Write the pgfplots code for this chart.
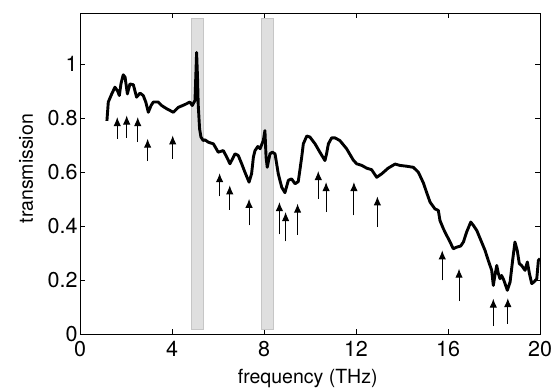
\documentclass[border=0pt]{standalone}
\usepackage{fontspec}
\setmainfont{TeX Gyre Heros}
\usepackage{pgfplots}
\pgfplotsset{compat=1.18}
\usetikzlibrary{arrows.meta}
\newcommand{\tickf}{\fontsize{21.5}{25}\selectfont}
\newcommand{\labf}{\fontsize{19.5}{23}\selectfont}
\begin{document}
\begin{tikzpicture}
\begin{axis}[
  scale only axis,
  width=460pt, height=321pt,
  xmin=0, xmax=20, ymin=0, ymax=1.19,
  xtick={0,4,8,12,16,20},
  ytick={0,0.2,0.4,0.6,0.8,1},
  tick align=inside,
  major tick length=5pt,
  tick style={black, line width=0.6pt},
  axis line style={black, line width=0.7pt},
  /pgf/number format/assume math mode=true,
  tick label style={font=\tickf},
  xticklabel style={anchor=base, yshift=-22.5pt},
  yticklabel style={anchor=east, xshift=1pt},
  label style={font=\labf},
  xlabel={frequency (THz)},
  ylabel={transmission},
  xlabel style={at={(axis description cs:0.495,0)}, anchor=base, yshift=-49pt},
  ylabel style={at={(axis description cs:0,0.515)}, anchor=base, yshift=47pt},
  clip=true,
]
% shaded bands
\addplot[fill=gray!25, draw=gray!45, line width=0.4pt] coordinates {(4.83,0.017) (5.35,0.017) (5.35,1.17) (4.83,1.17)} -- cycle;
\addplot[fill=gray!25, draw=gray!45, line width=0.4pt] coordinates {(7.87,0.017) (8.39,0.017) (8.39,1.17) (7.87,1.17)} -- cycle;
% transmission curve
\addplot[black, line width=2.9pt, line join=round] table {
x y
1.17 0.79
1.23 0.86
1.38 0.89
1.52 0.915
1.64 0.90
1.71 0.884
1.78 0.927
1.88 0.961
1.96 0.952
2.06 0.89
2.17 0.927
2.32 0.924
2.46 0.878
2.61 0.893
2.75 0.884
2.86 0.86
2.97 0.822
3.09 0.847
3.19 0.86
3.40 0.86
3.55 0.847
3.77 0.835
4.06 0.822
4.27 0.84
4.57 0.851
4.78 0.86
4.88 0.847
5.00 0.866
5.07 1.044
5.11 0.95
5.14 0.85
5.20 0.76
5.26 0.73
5.36 0.717
5.43 0.72
5.58 0.711
5.80 0.705
6.01 0.674
6.23 0.68
6.38 0.656
6.52 0.631
6.74 0.668
6.88 0.662
7.03 0.631
7.17 0.60
7.35 0.563
7.46 0.594
7.54 0.656
7.61 0.68
7.73 0.695
7.83 0.687
7.97 0.717
8.04 0.754
8.09 0.656
8.14 0.618
8.26 0.668
8.36 0.674
8.48 0.668
8.62 0.594
8.77 0.544
8.91 0.524
9.06 0.57
9.20 0.575
9.35 0.557
9.49 0.565
9.64 0.656
9.71 0.705
9.86 0.734
10.00 0.73
10.22 0.705
10.43 0.674
10.65 0.643
10.72 0.668
10.80 0.705
10.94 0.727
11.09 0.727
11.30 0.717
11.59 0.687
11.88 0.645
12.03 0.631
12.25 0.625
12.46 0.615
12.68 0.609
12.90 0.581
13.12 0.594
13.40 0.615
13.70 0.630
13.91 0.625
14.20 0.622
14.49 0.618
14.71 0.60
14.93 0.56
15.07 0.525
15.22 0.489
15.43 0.464
15.58 0.458
15.65 0.421
15.80 0.39
15.94 0.366
16.09 0.341
16.23 0.316
16.38 0.322
16.55 0.326
16.67 0.341
16.81 0.378
16.99 0.415
17.10 0.403
17.25 0.384
17.46 0.341
17.61 0.31
17.75 0.273
17.90 0.236
17.97 0.18
18.04 0.217
18.12 0.254
18.19 0.224
18.26 0.205
18.33 0.217
18.43 0.199
18.58 0.162
18.70 0.193
18.81 0.273
18.91 0.341
19.01 0.31
19.10 0.261
19.20 0.254
19.35 0.236
19.45 0.267
19.54 0.224
19.64 0.187
19.74 0.193
19.86 0.205
19.93 0.273
20.00 0.279
};
% arrows
\addplot[black, line width=1pt, no markers,
  quiver={u=0, v=\thisrow{v}},
  -{Latex[length=9pt,width=7.5pt]}] table {
x y v
1.62 0.724 0.080
2.03 0.727 0.083
2.51 0.711 0.093
2.94 0.641 0.083
4.03 0.650 0.086
6.07 0.510 0.086
6.51 0.461 0.090
7.35 0.403 0.098
8.67 0.369 0.120
8.94 0.343 0.109
9.46 0.368 0.115
10.36 0.501 0.103
10.70 0.452 0.111
11.91 0.440 0.123
12.93 0.396 0.114
15.75 0.199 0.111
16.48 0.122 0.120
17.97 0.029 0.102
18.60 0.038 0.095
};
\end{axis}
\pgfresetboundingbox
\path (current axis.south west) ++(-80pt,-55pt) rectangle ++(557pt,389pt);
\end{tikzpicture}
\end{document}
